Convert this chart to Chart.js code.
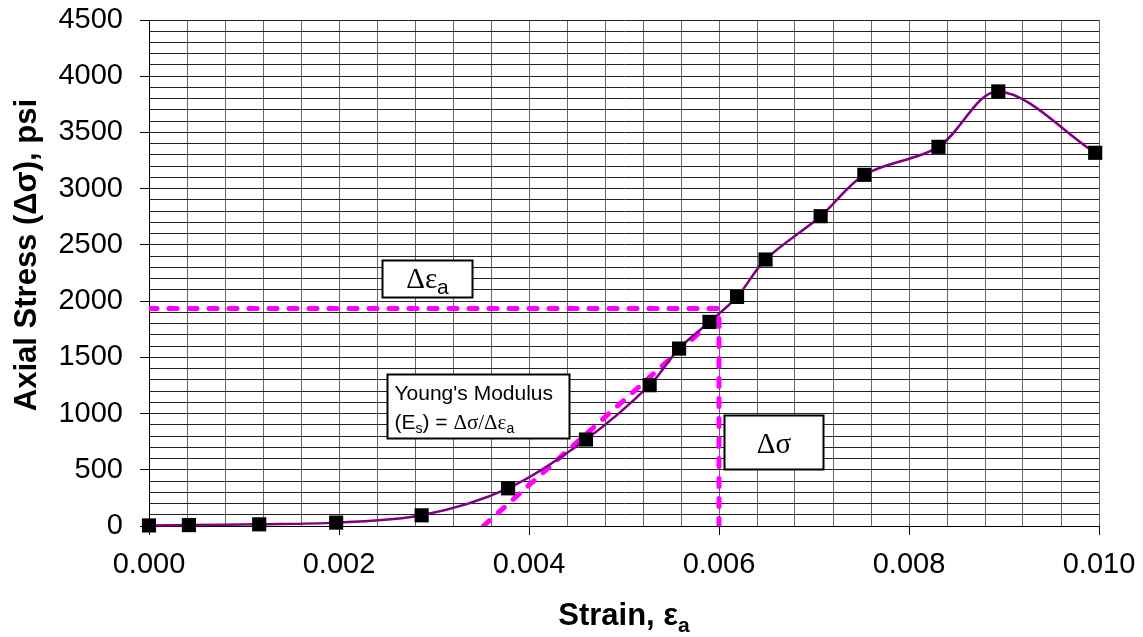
<!DOCTYPE html>
<html>
<head>
<meta charset="utf-8">
<script src="https://cdn.jsdelivr.net/npm/chart.js@4"></script>
<style>
  html, body { margin: 0; padding: 0; background: #fff; }
  #wrap { width: 1143px; height: 637px; }
</style>
</head>
<body>
<div id="wrap"><canvas id="myChart"></canvas></div>
<script>
const strain = [0, 0.00042, 0.00116, 0.00197, 0.00287, 0.00378, 0.0046, 0.00527, 0.00558, 0.0059,
                0.00619, 0.00649, 0.00707, 0.00753, 0.00831, 0.00894, 0.00996];
const stress = [5, 8, 15, 30, 95, 335, 769, 1252, 1578, 1815,
                2037, 2370, 2755, 3123, 3372, 3865, 3319];

// magenta construction lines
const guideStrain = [0, 0.006, 0.006];
const guideStress = [1934, 1934, 0];
const slopeStrain = [0.00352, 0.00598];
const slopeStress = [0, 1860];

const SANS = '"Liberation Sans", Arial, sans-serif';
const SERIF = '"Liberation Serif", "Times New Roman", serif';

function pts(xs, ys) {
    return xs.map((x, i) => ({ x: x, y: ys[i] }));
}
function isMajorX(v) {
    return Math.abs(v / 0.002 - Math.round(v / 0.002)) < 1e-6;
}
function isMajorY(v) {
    return Math.round(v) % 500 === 0;
}

// text runs: [text, font, dy]
function drawRuns(ctx, runs, x, y, align) {
    let w = 0;
    runs.forEach(r => { ctx.font = r[1]; w += ctx.measureText(r[0]).width; });
    let cx = align === 'center' ? x - w / 2 : x;
    ctx.textAlign = 'left';
    ctx.textBaseline = 'alphabetic';
    runs.forEach(r => {
        ctx.font = r[1];
        ctx.fillText(r[0], cx, y + (r[2] || 0));
        cx += ctx.measureText(r[0]).width;
    });
}

// annotation boxes in data units, text offsets in px from box
const notes = [
    { x0: 0.00245, x1: 0.0034, y0: 2035, y1: 2370, lines: [
        { align: 'center', dy: 9, runs: [['Δε', '29px ' + SERIF], ['a', '21px ' + SANS, 6]] }
    ]},
    { x0: 0.0025, x1: 0.00442, y0: 786, y1: 1356, lines: [
        { align: 'left', dx: 7, top: 25, runs: [["Young's Modulus", '21px ' + SANS]] },
        { align: 'left', dx: 7, top: 54, runs: [['(E', '21px ' + SANS], ['s', '14px ' + SANS, 4],
            [') = ', '21px ' + SANS], ['Δσ/Δε', '21px ' + SERIF], ['a', '14px ' + SANS, 4]] }
    ]},
    { x0: 0.00605, x1: 0.00709, y0: 507, y1: 991, lines: [
        { align: 'center', dy: 10, runs: [['Δσ', '29px ' + SERIF]] }
    ]}
];

const notesPlugin = {
    id: 'notes',
    afterDatasetsDraw(chart) {
        const ctx = chart.ctx;
        const xs = chart.scales.x, ys = chart.scales.y;
        ctx.save();
        notes.forEach(n => {
            const l = Math.round(xs.getPixelForValue(n.x0)) + 0.5;
            const r = Math.round(xs.getPixelForValue(n.x1)) + 0.5;
            const t = Math.round(ys.getPixelForValue(n.y1)) + 0.5;
            const b = Math.round(ys.getPixelForValue(n.y0)) + 0.5;
            ctx.fillStyle = '#fff';
            ctx.fillRect(l, t, r - l, b - t);
            ctx.strokeStyle = '#000';
            ctx.lineWidth = 2;
            ctx.strokeRect(l, t, r - l, b - t);
            ctx.fillStyle = '#000';
            n.lines.forEach(ln => {
                if (ln.align === 'center') {
                    drawRuns(ctx, ln.runs, (l + r) / 2, (t + b) / 2 + ln.dy, 'center');
                } else {
                    drawRuns(ctx, ln.runs, l + ln.dx, t + ln.top, 'left');
                }
            });
        });
        // axis titles
        const area = chart.chartArea;
        drawRuns(ctx, [['Strain, ε', 'bold 31px ' + SANS], ['a', 'bold 21px ' + SANS, 7]],
            (area.left + area.right) / 2, 625, 'center');
        ctx.save();
        ctx.translate(36, (area.top + area.bottom) / 2 - 18);
        ctx.rotate(-Math.PI / 2);
        drawRuns(ctx, [['Axial Stress (Δσ), psi', 'bold 31px ' + SANS]], 0, 0, 'center');
        ctx.restore();
        ctx.restore();
    }
};

const data = {
    datasets: [{
        label: 'stress',
        data: pts(strain, stress),
        borderColor: '#800080',
        borderWidth: 2.5,
        tension: 0.33,
        pointStyle: 'rect',
        pointRadius: 10,
        pointBackgroundColor: '#000',
        pointBorderColor: '#000',
        pointBorderWidth: 0,
        clip: false,
        order: 0
    },
    {
        label: 'guide',
        data: pts(guideStrain, guideStress),
        borderColor: '#ff00ff',
        borderWidth: 5,
        borderDash: [8, 12],
        borderCapStyle: 'round',
        borderJoinStyle: 'round',
        pointRadius: 0,
        tension: 0,
        order: 1
    },
    {
        label: 'slope',
        data: pts(slopeStrain, slopeStress),
        borderColor: '#ff00ff',
        borderWidth: 5,
        borderDash: [8, 12],
        borderCapStyle: 'round',
        pointRadius: 0,
        tension: 0,
        order: 1
    }]
};

const config = {
    type: 'line',
    data: data,
    plugins: [notesPlugin],
    options: {
        responsive: true,
        maintainAspectRatio: false,
        animation: false,
        devicePixelRatio: 1,
        layout: { padding: { top: 20, right: 44, left: 0, bottom: 0 } },
        plugins: {
            legend: { display: false },
            tooltip: { enabled: false }
        },
        scales: {
            x: {
                type: 'linear',
                min: 0,
                max: 0.010,
                border: { display: true, color: '#000', width: 1 },
                grid: {
                    color: '#666',
                    lineWidth: 1,
                    tickLength: 9,
                    tickColor: c => isMajorX(c.tick.value) ? '#000' : 'rgba(0,0,0,0)'
                },
                ticks: {
                    stepSize: 0.0004,
                    autoSkip: false,
                    maxRotation: 0,
                    padding: 13,
                    color: '#000',
                    font: { family: SANS, size: 29 },
                    callback: v => isMajorX(v) ? v.toFixed(3) : ''
                },
                afterFit: s => {
                    s.height = 111;
                    s.paddingLeft = 0;
                    s.paddingRight = 0;
                }
            },
            y: {
                type: 'linear',
                min: 0,
                max: 4500,
                border: { display: true, color: '#000', width: 1 },
                grid: {
                    color: '#222',
                    lineWidth: 1,
                    tickLength: 9,
                    tickColor: c => isMajorY(c.tick.value) ? '#000' : 'rgba(0,0,0,0)'
                },
                ticks: {
                    stepSize: 100,
                    autoSkip: false,
                    padding: 17,
                    color: '#000',
                    font: { family: SANS, size: 29 },
                    callback: v => isMajorY(v) ? v : ''
                },
                afterFit: s => {
                    s.width = 149;
                    s.paddingTop = 0;
                    s.paddingBottom = 0;
                }
            }
        }
    }
};

const myChart = new Chart(document.getElementById('myChart'), config);
</script>
</body>
</html>
